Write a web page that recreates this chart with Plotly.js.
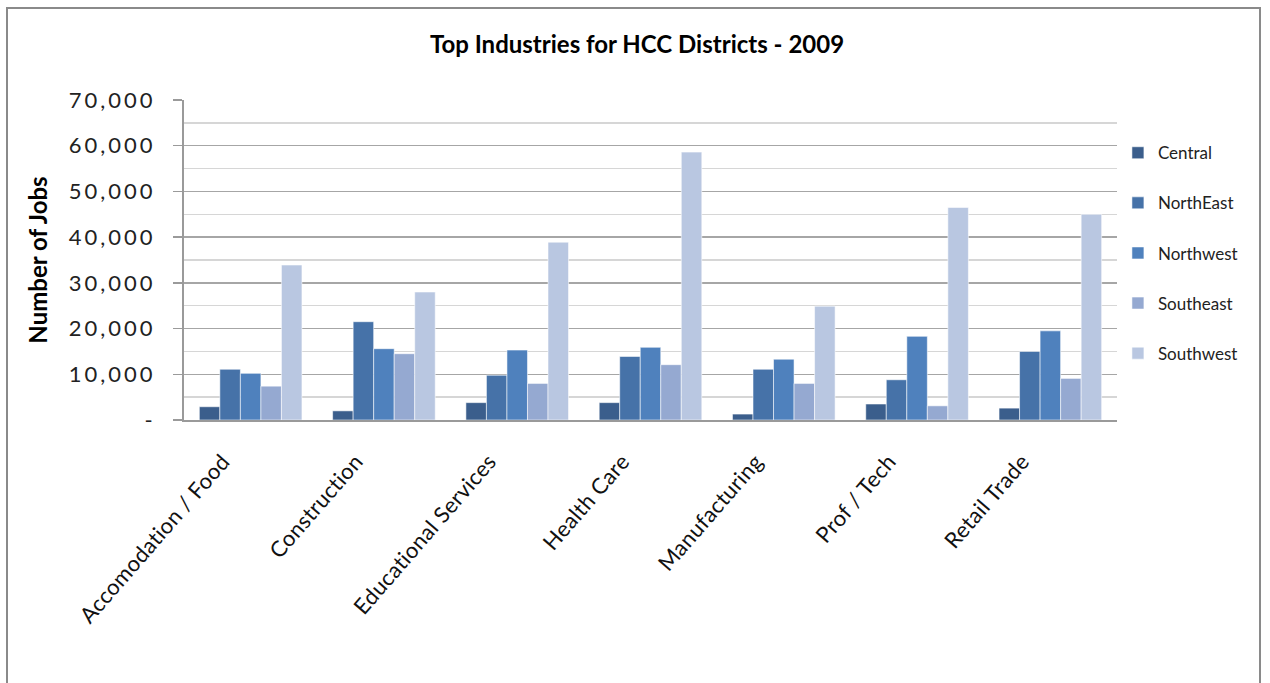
<!DOCTYPE html>
<html>
<head>
<meta charset="utf-8">
<script src="https://cdn.plot.ly/plotly-3.0.1.min.js"></script>
<style>
  body { margin: 0; background: #fff; }
  #wrap { position: relative; width: 1270px; height: 683px; overflow: hidden; }
  #chart { width: 1270px; height: 683px; }
  #frame { position: absolute; left: 6px; top: 7px; width: 1255px; height: 700px;
           border: 2px solid #8a8a8a; pointer-events: none; box-sizing: border-box; }
  #chart .ytick text { letter-spacing: 3px; }
  #chart .xtick text { letter-spacing: 0.3px; }
</style>
</head>
<body>
<div id="wrap"><div id="chart"></div><div id="frame"></div></div>
<script>
const categories = ["Accomodation / Food", "Construction", "Educational Services", "Health Care", "Manufacturing", "Prof / Tech", "Retail Trade"];
const seriesNames = ["Central", "NorthEast", "Northwest", "Southeast", "Southwest"];
const central   = [2900, 2000, 3800, 3800, 1300, 3500, 2600];
const northEast = [11100, 21500, 9800, 13900, 11100, 8800, 15000];
const northwest = [10200, 15600, 15300, 15900, 13300, 18300, 19500];
const southeast = [7400, 14500, 8000, 12100, 8000, 3100, 9100];
const southwest = [33900, 28000, 38900, 58600, 24900, 46500, 45000];
const yTickVals = [0, 10000, 20000, 30000, 40000, 50000, 60000, 70000];
const yTickText = ["-", "10,000", "20,000", "30,000", "40,000", "50,000", "60,000", "70,000"];

const seriesValues = [central, northEast, northwest, southeast, southwest];
const colors = ["#3B5E8C", "#4672A8", "#4F81BD", "#95A9D1", "#B9C7E1"];
const FONT = "Lato, 'Open Sans', sans-serif";

const traces = seriesNames.map((name, i) => ({
  type: "bar",
  name: name,
  x: categories,
  y: seriesValues[i],
  legendgroup: "g" + i,
  marker: { color: colors[i], line: { color: "rgba(255,255,255,0.55)", width: 1 } },
  hoverinfo: "x+y+name"
}));

const layout = {
  width: 1270, height: 683,
  paper_bgcolor: "#fff", plot_bgcolor: "#fff",
  margin: { l: 184, r: 153, t: 100, b: 263 },
  barmode: "group",
  bargap: 0.23,
  bargroupgap: 0,
  font: { family: FONT, color: "#111" },
  title: {
    text: "<b>Top Industries for HCC Districts - 2009</b>",
    font: { family: FONT, size: 24, color: "#000" },
    x: 637 / 1270, xanchor: "center", xref: "container",
    y: 1 - 45 / 683, yanchor: "middle"
  },
  xaxis: {
    tickangle: -49,
    tickfont: { family: FONT, size: 22, color: "#111" },
    ticklabelstandoff: 18,
    ticklabelshift: -28,
    showline: true, linecolor: "#9a9a9a", linewidth: 2,
    ticks: "", showgrid: false, zeroline: false
  },
  yaxis: {
    range: [0, 70000],
    tickvals: yTickVals, ticktext: yTickText,
    tickfont: { family: FONT, size: 22, color: "#222" },
    ticks: "outside", ticklen: 9, tickcolor: "#9a9a9a", tickwidth: 1.5,
    ticklabelstandoff: 13,
    showline: true, linecolor: "#9a9a9a", linewidth: 2,
    showgrid: true, gridcolor: "#a6a6a6", gridwidth: 1.5,
    minor: { dtick: 5000, showgrid: true, gridcolor: "#d6d6d6", gridwidth: 1.5 },
    zeroline: false,
    title: { text: "<b>Number of Jobs</b>", font: { family: FONT, size: 24, color: "#000" }, standoff: 32 }
  },
  legend: {
    x: 1.001, xanchor: "left", y: 0.89, yanchor: "top",
    font: { family: FONT, size: 17, color: "#222" },
    tracegroupgap: 25,
    itemwidth: 30,
    bgcolor: "rgba(0,0,0,0)"
  },
  showlegend: true
};

Plotly.newPlot("chart", traces, layout, { displayModeBar: false, staticPlot: true });
</script>
</body>
</html>
